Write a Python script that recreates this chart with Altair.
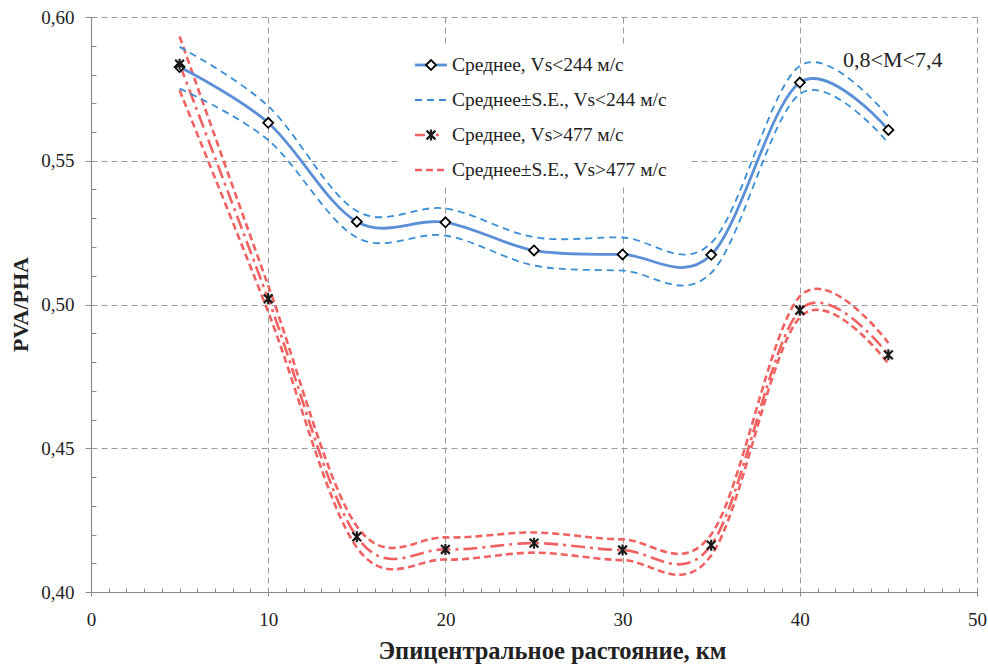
import altair as alt
import pandas as pd

# ---------------- data ----------------
distance = [5, 10, 15, 20, 25, 30, 35, 40, 45]

blue_mean = [0.5826, 0.5632, 0.5288, 0.5286, 0.5188, 0.5174, 0.5173, 0.5772, 0.5607]
blue_upper = [0.5896, 0.5690, 0.5325, 0.5334, 0.5234, 0.5233, 0.5214, 0.5830, 0.5653]
blue_lower = [0.5751, 0.5572, 0.5233, 0.5240, 0.5136, 0.5118, 0.5110, 0.5732, 0.5561]

red_mean = [0.5836, 0.5020, 0.4192, 0.4148, 0.4170, 0.4146, 0.4163, 0.4980, 0.4825]
red_upper = [0.5932, 0.5066, 0.4229, 0.4190, 0.4207, 0.4183, 0.4200, 0.5028, 0.4866]
red_lower = [0.5745, 0.4974, 0.4155, 0.4113, 0.4137, 0.4111, 0.4127, 0.4955, 0.4794]

legend_labels = [
    "Среднее, Vs<244 м/с",
    "Среднее±S.E., Vs<244 м/с",
    "Среднее, Vs>477 м/с",
    "Среднее±S.E., Vs>477 м/с",
]
annotation = "0,8<M<7,4"
x_title = "Эпицентральное растояние, км"
y_title = "PVA/PHA"

x_ticks = [0, 10, 20, 30, 40, 50]
y_ticks = [0.40, 0.45, 0.50, 0.55, 0.60]
x_minor = [i for i in range(1, 50) if i % 10]
y_minor = [round(0.40 + 0.01 * i, 2) for i in range(1, 20) if i % 5]

series = {
    "blue_mean": blue_mean,
    "blue_upper": blue_upper,
    "blue_lower": blue_lower,
    "red_mean": red_mean,
    "red_upper": red_upper,
    "red_lower": red_lower,
}
rows = []
for name, vals in series.items():
    for d, v in zip(distance, vals):
        rows.append({"series": name, "distance": d, "value": v})
df = pd.DataFrame(rows)

# ---------------- styling ----------------
FONT = "Liberation Serif"
TXT = "#222222"
GRID = "#9a9a9a"
AXC = "#8a8a8a"
BLUE = "#5B8FD6"
BLUE_SE = "#3A8ED6"
RED = "#F06262"
STAR = "M0,-1L0,1M-0.8,-0.8L0.8,0.8M-0.8,0.8L0.8,-0.8"

x_scale = alt.Scale(domain=[0, 50], nice=False, zero=False)
y_scale = alt.Scale(domain=[0.40, 0.60], nice=False, zero=False)

x_main = alt.X(
    "distance:Q",
    scale=x_scale,
    axis=alt.Axis(
        orient="bottom",
        values=x_ticks,
        labelExpr="format(datum.value, 'd')",
        labelFlush=False, labelOverlap=False,
        grid=True, gridDash=[6, 4], gridColor=GRID, gridWidth=1,
        domainColor=AXC, domainWidth=1.2,
        tickColor=AXC, tickSize=4, tickWidth=1,
        labelPadding=14, labelFont=FONT, labelFontSize=19, labelColor=TXT,
        title=x_title, titleFont=FONT, titleFontSize=24.5, titleFontWeight="bold",
        titleColor=TXT, titleX=461, titleY=66, titleBaseline="alphabetic",
    ),
)
y_main = alt.Y(
    "value:Q",
    scale=y_scale,
    axis=alt.Axis(
        orient="left",
        values=y_ticks,
        labelExpr="replace(format(datum.value, '.2f'), '.', ',')",
        labelFlush=False, labelOverlap=False,
        grid=True, gridDash=[6, 4], gridColor=GRID, gridWidth=1,
        domainColor=AXC, domainWidth=1.2,
        tickColor=AXC, tickSize=6, tickWidth=1,
        labelPadding=11, labelFont=FONT, labelFontSize=19, labelColor=TXT,
        labelBaseline="middle",
        title=y_title, titleFont=FONT, titleFontSize=22, titleFontWeight="bold",
        titleColor=TXT, titleAngle=270, titleX=-71, titleY=287, titleBaseline="middle",
    ),
)


def line(name, color, width, dash=None):
    kw = dict(color=color, strokeWidth=width, interpolate="cardinal")
    if dash:
        kw["strokeDash"] = dash
    return (
        alt.Chart(df)
        .transform_filter(alt.datum.series == name)
        .mark_line(**kw)
        .encode(x=x_main, y=y_main)
    )


data_layers = [
    line("red_upper", RED, 2.6, [7, 4]),
    line("red_lower", RED, 2.6, [7, 4]),
    line("red_mean", RED, 2.6, [14, 5, 3, 5]),
    line("blue_upper", BLUE_SE, 1.8, [7, 5]),
    line("blue_lower", BLUE_SE, 1.8, [7, 5]),
    line("blue_mean", BLUE, 2.8),
    alt.Chart(df).transform_filter(alt.datum.series == "blue_mean")
    .mark_point(shape="diamond", filled=True, fill="white", stroke="black",
                strokeWidth=1.8, size=100, opacity=1)
    .encode(x=x_main, y=y_main),
    alt.Chart(df).transform_filter(alt.datum.series == "red_mean")
    .mark_point(shape=STAR, filled=False, stroke="#1a1a1a", strokeWidth=2.2,
                size=121, opacity=1)
    .encode(x=x_main, y=y_main),
]

# ---------------- legend (drawn manually) ----------------
one = pd.DataFrame({"k": [0]})
LX0, LX1, LTX = 324, 356, 361
row_y = [48 + 35 * i for i in range(4)]

legend_layers = [
    alt.Chart(one).mark_rect(fill="white", stroke=None).encode(
        x=alt.value(307), x2=alt.value(599), y=alt.value(29), y2=alt.value(167)),
    alt.Chart(one).mark_rule(color=BLUE, strokeWidth=2.8).encode(
        x=alt.value(LX0), x2=alt.value(LX1), y=alt.value(row_y[0])),
    alt.Chart(one).mark_point(shape="diamond", filled=True, fill="white", stroke="black",
                              strokeWidth=1.8, size=100, opacity=1).encode(
        x=alt.value((LX0 + LX1) / 2), y=alt.value(row_y[0])),
    alt.Chart(one).mark_rule(color=BLUE_SE, strokeWidth=1.8, strokeDash=[7, 5]).encode(
        x=alt.value(LX0), x2=alt.value(LX1), y=alt.value(row_y[1])),
    alt.Chart(one).mark_rule(color=RED, strokeWidth=2.6, strokeDash=[10, 11, 3, 20]).encode(
        x=alt.value(LX0), x2=alt.value(LX1), y=alt.value(row_y[2])),
    alt.Chart(one).mark_point(shape=STAR, filled=False, stroke="#1a1a1a", strokeWidth=2.2,
                              size=121, opacity=1).encode(
        x=alt.value((LX0 + LX1) / 2), y=alt.value(row_y[2])),
    alt.Chart(one).mark_rule(color=RED, strokeWidth=2.6, strokeDash=[7, 4]).encode(
        x=alt.value(LX0), x2=alt.value(LX1), y=alt.value(row_y[3])),
]
for i, lab in enumerate(legend_labels):
    legend_layers.append(
        alt.Chart(pd.DataFrame({"label": [lab]}))
        .mark_text(font=FONT, fontSize=19.5, color=TXT, align="left", baseline="middle")
        .encode(text="label:N", x=alt.value(LTX), y=alt.value(row_y[i]))
    )

legend_layers.append(
    alt.Chart(pd.DataFrame({"label": [annotation]}))
    .mark_text(font=FONT, fontSize=22, color=TXT, align="left", baseline="middle")
    .encode(text="label:N", x=alt.value(752), y=alt.value(43))
)

main = alt.layer(*data_layers, *legend_layers)

# ---------------- minor ticks ----------------
minor = alt.Chart(df).mark_point(opacity=0).encode(
    x=alt.X("distance:Q", scale=x_scale,
            axis=alt.Axis(orient="bottom", values=x_minor, offset=-4, tickSize=4,
                          tickColor=AXC, tickWidth=1, labels=False, domain=False,
                          grid=False, title="")),
    y=alt.Y("value:Q", scale=y_scale,
            axis=alt.Axis(orient="left", values=y_minor, offset=-5, tickSize=5,
                          tickColor=AXC, tickWidth=1, labels=False, domain=False,
                          grid=False, title="")),
)

chart = (
    alt.layer(main, minor)
    .resolve_axis(x="independent", y="independent")
    .properties(
        width=886, height=575,
        autosize=alt.AutoSizeParams(type="none"),
        padding={"left": 91, "top": 17, "right": 11, "bottom": 74},
        background="white",
    )
    .configure_view(stroke=None)
)

chart.save("out.html", embed_options={"renderer": "svg", "actions": False})
